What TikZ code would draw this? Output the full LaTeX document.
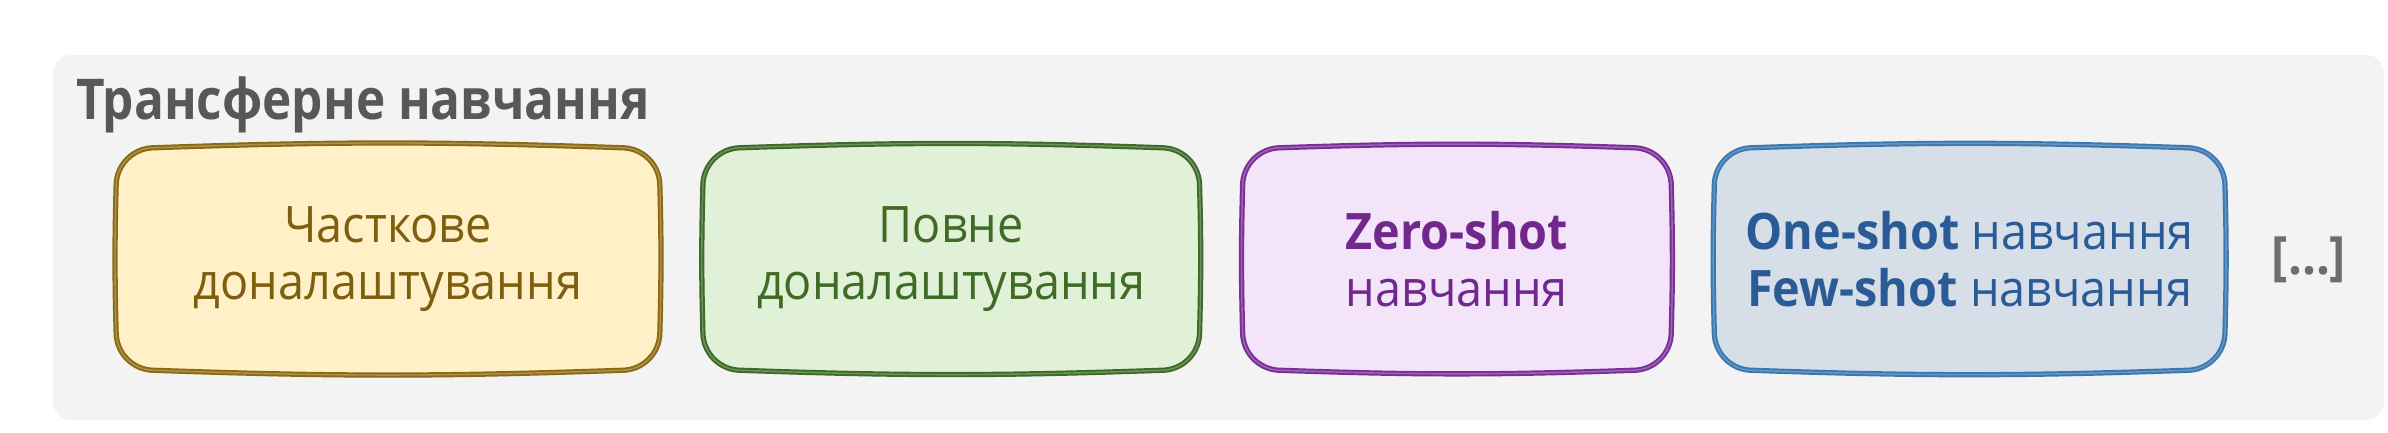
\documentclass[tikz,border=0pt]{standalone}
\usepackage{fontspec}
\setmainfont{Open Sans}[FakeStretch=0.93]
\newfontfamily\titlefont{Open Sans}[FakeStretch=0.88]
\usetikzlibrary{positioning,backgrounds}

\definecolor{panelgray}{HTML}{F3F3F3}
\definecolor{titlegray}{HTML}{585858}
\definecolor{dotsgray}{HTML}{6E6E6E}
\definecolor{partfill}{HTML}{FFF0C8}
\definecolor{partline}{HTML}{8A6A14}
\definecolor{parttext}{HTML}{7E5F10}
\definecolor{fullfill}{HTML}{E1F1D7}
\definecolor{fullline}{HTML}{3D6A28}
\definecolor{fulltext}{HTML}{3F6B26}
\definecolor{zerofill}{HTML}{F3E4FA}
\definecolor{zeroline}{HTML}{7A2E98}
\definecolor{zerotext}{HTML}{70288C}
\definecolor{fewfill}{HTML}{D6DEE8}
\definecolor{fewline}{HTML}{3A78B0}
\definecolor{fewtext}{HTML}{2B5B97}

\tikzset{
  sketchbox/.style={minimum height=2.21cm, align=center, inner sep=0pt,
    font=\fontsize{14.3}{16.2}\selectfont,
    execute at begin node={\rule{0pt}{0.45cm}}},
  partbox/.style={sketchbox, text=parttext},
  fullbox/.style={sketchbox, text=fulltext},
  zerobox/.style={sketchbox, text=zerotext},
  fewbox/.style={sketchbox, text=fewtext},
  sketchline/.style={line width=0.55pt, double distance=0.4pt},
}

\begin{document}
\begin{tikzpicture}[x=0.01cm, y=-0.01cm, node distance=0.43cm]
    \useasboundingbox (0,0) rectangle (2388,432);
    \node[anchor=base west, inner sep=0pt, text=titlegray,
          font=\titlefont\bfseries\fontsize{16}{19}\selectfont] (title) at (76,119) {Трансферне навчання};

    \node[partbox, minimum width=5.42cm] (partial) at (388,259) {Часткове\\доналаштування};
    \node[fullbox, minimum width=4.95cm, right=of partial] (full) {Повне\\доналаштування};
    \node[zerobox, minimum width=4.27cm, right=of full] (zero) {\textbf{Zero-shot}\\навчання};
    \node[fewbox, minimum width=5.09cm, right=of zero] (few)
        {\textbf{One-shot} навчання\\\textbf{Few-shot} навчання};
    \node[text=dotsgray, font=\bfseries\fontsize{15}{18}\selectfont] (more) at (2309,260) {[...]};

    \begin{scope}[on background layer]
        \fill[panelgray, rounded corners=0.18cm] (53,55) rectangle (2384,420);
        % hand drawn borders
        \foreach \nd/\fc/\lc in {partial/partfill/partline, full/fullfill/fullline,
                                 zero/zerofill/zeroline, few/fewfill/fewline}
            \filldraw[sketchline, fill=\fc, draw=\lc, double=\lc!70!\fc]
                ([xshift=0.38cm]\nd.north west) to[bend left=2] ([xshift=-0.38cm]\nd.north east)
                .. controls ([xshift=-0.17cm]\nd.north east) and ([yshift=-0.17cm]\nd.north east)
                .. ([yshift=-0.38cm]\nd.north east)
                to[bend left=1.5] ([yshift=0.38cm]\nd.south east)
                .. controls ([yshift=0.17cm]\nd.south east) and ([xshift=-0.17cm]\nd.south east)
                .. ([xshift=-0.38cm]\nd.south east)
                to[bend left=2] ([xshift=0.38cm]\nd.south west)
                .. controls ([xshift=0.17cm]\nd.south west) and ([yshift=0.17cm]\nd.south west)
                .. ([yshift=0.38cm]\nd.south west)
                to[bend left=1.5] ([yshift=-0.38cm]\nd.north west)
                .. controls ([yshift=-0.17cm]\nd.north west) and ([xshift=0.17cm]\nd.north west)
                .. ([xshift=0.38cm]\nd.north west) -- cycle;
    \end{scope}
\end{tikzpicture}
\end{document}
